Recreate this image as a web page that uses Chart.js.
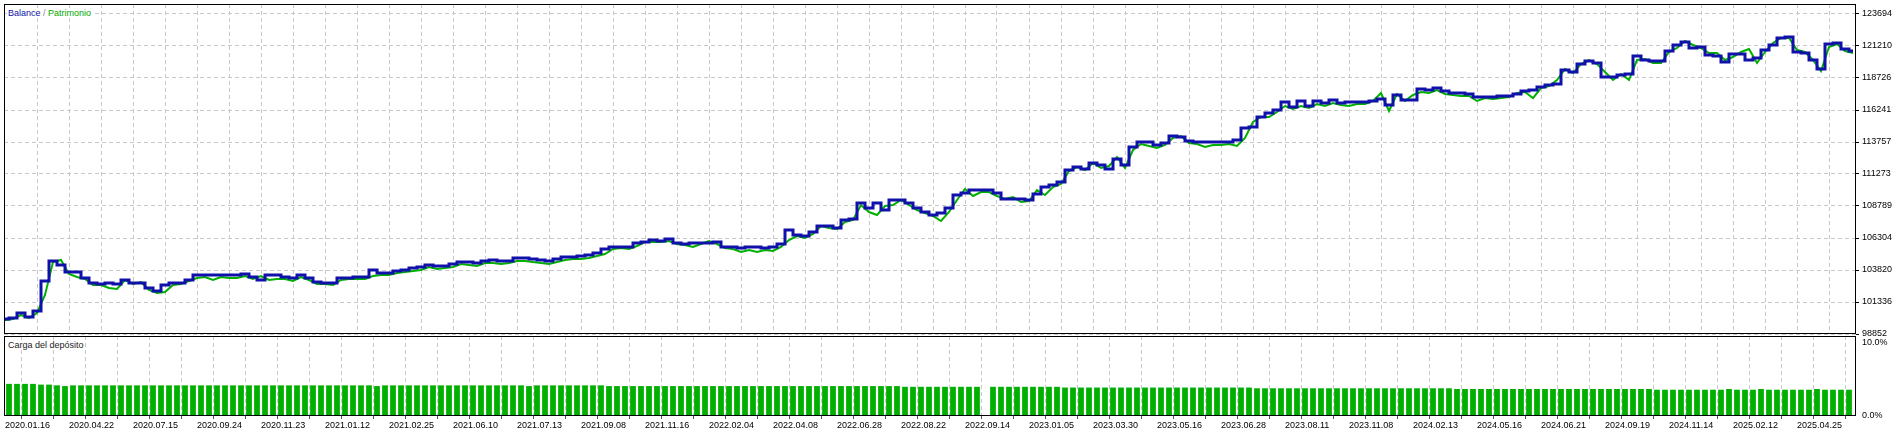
<!DOCTYPE html>
<html><head><meta charset="utf-8">
<script src="https://cdn.jsdelivr.net/npm/chart.js@4.4.0/dist/chart.umd.min.js"></script>
<style>
html,body{margin:0;padding:0;background:#fff;width:1901px;height:433px;overflow:hidden;}
#wrap{position:relative;width:1901px;height:433px;}
#mainBox{position:absolute;left:0;top:0;width:1901px;height:336px;}
#loadBox{position:absolute;left:0;top:330px;width:1901px;height:103px;}
.lbl{position:absolute;font:9px "Liberation Sans",Arial,sans-serif;white-space:nowrap;background:#fff;line-height:10px;padding:0 1px;}
</style></head>
<body><div id="wrap">
<div id="mainBox"><canvas id="main" width="1901" height="336"></canvas></div>
<div id="loadBox"><canvas id="load" width="1901" height="103"></canvas></div>
<div class="lbl" style="left:7px;top:8px;"><span style="color:#1010aa">Balance</span><span style="color:#888"> / </span><span style="color:#00a800">Patrimonio</span></div>
<div class="lbl" style="left:7px;top:340px;color:#222">Carga del depósito</div>
</div>
<script>
// ---- data ----
const dateLabels = ['2020.01.16','2020.04.22','2020.07.15','2020.09.24','2020.11.23','2021.01.12','2021.02.25','2021.06.10','2021.07.13','2021.09.08','2021.11.16','2022.02.04','2022.04.08','2022.06.28','2022.08.22','2022.09.14','2023.01.05','2023.03.30','2023.05.16','2023.06.28','2023.08.11','2023.11.08','2024.02.13','2024.05.16','2024.06.21','2024.09.19','2024.11.14','2025.02.12','2025.04.25'];
const yTickVals = [98852,101336,103820,106304,108789,111273,113757,116241,118726,121210,123694];
const yTickLabels = ['98852','101336','103820','106304','108789','111273','113757','116241','118726','121210','123694'];
const loadTickVals = [0,10];
const loadTickLabels = ['0.0%','10.0%'];

const balance = [
100016,100094,100482,100171,100637,102966,104519,104208,103665,103665,
103199,102811,102733,102811,102733,103044,102811,102811,102423,102190,
102655,102811,102811,103044,103432,103432,103432,103432,103432,103432,
103509,103276,103044,103432,103432,103276,103199,103432,103199,102888,
102811,102811,103199,103199,103276,103276,103820,103587,103587,103742,
103820,103975,104053,104208,104130,104130,104286,104441,104441,104363,
104519,104596,104519,104519,104751,104751,104674,104596,104519,104674,
104829,104829,104907,104984,105140,105450,105605,105605,105605,105916,
105994,106149,106071,106226,105916,105838,105916,105916,105916,105994,
105605,105605,105528,105605,105605,105528,105605,105838,106925,106537,
106459,106770,107236,107236,107080,107701,107779,109021,108633,109021,
108478,109254,109254,109021,108633,108322,108090,108245,108633,109642,
109797,110030,110030,110030,109797,109332,109332,109332,109254,109720,
110263,110418,110651,111583,111816,111661,112126,111971,111661,112437,
111971,113368,113757,113757,113524,113679,114222,114145,113834,113757,
113757,113757,113757,113757,113912,114843,114921,115697,116008,116241,
116862,116474,116939,116551,116939,116784,117017,116784,116862,116862,
116862,116939,117095,116629,117405,117017,117017,117871,117793,117949,
117716,117560,117560,117483,117250,117250,117250,117328,117328,117483,
117716,117793,118026,118181,118259,119346,119191,119812,120045,119889,
118802,118802,118958,119035,120433,120122,120045,120045,120821,121287,
121520,121054,121131,120510,120433,119967,120588,120588,120122,120277,
120898,121287,121830,121908,120743,120666,120122,119424,121364,121442,
120976,120821];

const equity = [
99938,100016,100327,100094,100482,101879,104441,104596,103509,103276,
103121,102655,102655,102423,102345,103044,102733,102888,102267,102034,
102112,102655,102733,102966,103199,103276,103044,103276,103199,103199,
103354,103121,103354,103044,103121,103121,102966,103276,103044,102733,
102733,102655,103044,103121,103121,103121,103354,103432,103432,103587,
103665,103742,103820,104053,103898,103975,104053,104286,104208,104130,
104363,104363,104286,104363,104519,104519,104441,104363,104286,104441,
104596,104674,104674,104751,104907,105062,105450,105528,105450,105683,
105994,105994,105994,106071,105838,105761,105605,105838,106071,105838,
105528,105450,105217,105372,105217,105372,105295,105605,106149,106459,
106304,106615,107236,107080,107003,107546,107701,108866,108322,108090,
108788,108866,109254,108866,108478,108245,108012,107624,108322,109254,
110108,109565,109875,109875,109565,109332,109487,109099,109176,110030,
109642,110263,110496,111505,111816,111583,112126,111738,111893,112592,
111738,113135,113601,113446,113291,113524,114067,114222,113679,113601,
113368,113524,113524,113601,113446,114067,115309,115697,115697,116085,
116551,116318,116551,116396,116706,116551,116784,116629,116551,116706,
116706,116939,117560,116163,117483,116939,117405,117638,117560,117793,
117483,117405,117328,117328,116939,117172,117095,117172,117250,117560,
117638,117172,117949,118104,118570,119424,119113,119812,120122,119812,
119191,118570,119035,118570,120122,120200,119889,119889,120743,121054,
121597,121287,121054,120666,120666,120122,120355,120743,120976,119889,
120743,121442,121830,121830,120898,120743,120122,119268,121131,121364,
120821,120666];

const depositLoad = [
4.4,4.4,4.4,4.4,4.3,4.3,4.2,4.1,4.2,4.2,
4.2,4.2,4.2,4.2,4.2,4.2,4.2,4.2,4.2,4.2,
4.2,4.2,4.2,4.2,4.2,4.2,4.2,4.2,4.2,4.2,
4.2,4.2,4.2,4.2,4.2,4.2,4.2,4.2,4.2,4.2,
4.2,4.2,4.2,4.2,4.2,4.2,4.1,4.2,4.2,4.2,
4.2,4.2,4.2,4.2,4.2,4.2,4.2,4.2,4.2,4.2,
4.2,4.2,4.2,4.2,4.2,4.1,4.2,4.2,4.2,4.2,
4.2,4.2,4.2,4.2,4.2,4.1,4.1,4.1,4.1,4.1,
4.1,4.1,4.1,4.1,4.1,4.1,4.1,4.1,4.1,4.1,
4.1,4.1,4.1,4.1,4.1,4.1,4.1,4.1,4.1,4.1,
4.1,4.1,4.1,4.1,4.1,4.1,4.1,4.1,4.1,4.1,
4.1,4.1,4.0,4.0,4.0,4.0,4.0,4.0,4.0,4.0,
4.0,4.0,null,4.0,4.0,4.0,4.0,4.0,4.0,4.0,
4.0,4.0,3.9,3.9,3.9,3.9,3.9,3.9,3.9,3.9,
3.9,3.9,3.9,3.9,3.9,3.9,3.9,3.9,3.9,3.9,
3.9,3.9,3.9,3.9,3.9,3.9,3.8,3.8,3.8,3.8,
3.8,3.8,3.8,3.8,3.8,3.8,3.8,3.8,3.8,3.8,
3.8,3.8,3.8,3.8,3.8,3.8,3.8,3.8,3.8,3.8,
3.8,3.7,3.7,3.7,3.7,3.7,3.7,3.7,3.7,3.7,
3.7,3.7,3.7,3.7,3.7,3.7,3.7,3.7,3.7,3.7,
3.7,3.7,3.7,3.7,3.7,3.7,3.6,3.6,3.6,3.6,
3.6,3.6,3.6,3.6,3.6,3.7,3.6,3.6,3.6,3.7,
3.6,3.6,3.6,3.6,3.6,3.6,3.7,3.6,3.6,3.6,
3.6];

// ---- layout / style ----
const X_MIN = -0.125, X_MAX = 231.375;
const gridIdx = []; for (let k = 0; k <= 57; k++) gridIdx.push(k * 4);
const FONT = {family: '"Liberation Sans", Arial, sans-serif', size: 9};
const GRID = '#c8c8c8';
const DASH = [4, 3];

const frame = {id: 'frame', afterDraw(c) {
  const a = c.chartArea, ctx = c.ctx;
  ctx.save(); ctx.strokeStyle = '#000'; ctx.lineWidth = 1;
  ctx.strokeRect(a.left + 0.5, a.top + 0.5, a.right - a.left - 1, a.bottom - a.top - 1);
  ctx.restore();
}};

const noPad = ax => { ax.paddingTop = 0; ax.paddingBottom = 0; ax.paddingLeft = 0; ax.paddingRight = 0; };
const gridColor = ctx => (ctx.tick && ctx.tick.value === 0) ? 'rgba(0,0,0,0)' : GRID;

new Chart(document.getElementById('main'), {
  type: 'line',
  data: { datasets: [
    { label: 'Balance', data: balance.map((v, i) => ({x: i, y: v})), borderColor: '#1010aa', borderWidth: 3,
      pointRadius: 0, stepped: 'middle', order: 0 },
    { label: 'Patrimonio', data: equity.map((v, i) => ({x: i, y: v})), borderColor: '#00b000', borderWidth: 2,
      pointRadius: 0, tension: 0, order: 1 }
  ]},
  options: {
    responsive: false, animation: false, devicePixelRatio: 1,
    layout: {padding: {left: 4, top: 4, right: 0, bottom: 2}},
    plugins: {legend: {display: false}, tooltip: {enabled: false}},
    scales: {
      x: { type: 'linear', min: X_MIN, max: X_MAX,
        afterBuildTicks: ax => { ax.ticks = gridIdx.map(v => ({value: v})); },
        afterFit: ax => { ax.height = 0; noPad(ax); },
        ticks: {display: false},
        grid: {color: gridColor, drawTicks: false},
        border: {display: false, dash: DASH} },
      y: { type: 'linear', position: 'right', min: 98852, max: 124470,
        afterBuildTicks: ax => { ax.ticks = yTickVals.map(v => ({value: v})); },
        afterFit: ax => { ax.width = 45; noPad(ax); },
        ticks: {color: '#000', font: FONT, padding: 3, callback: (v, i) => yTickLabels[i]},
        grid: {color: GRID, tickLength: 3, tickColor: '#000', tickBorderDash: []},
        border: {display: false, dash: DASH} }
    }
  },
  plugins: [frame]
});

new Chart(document.getElementById('load'), {
  type: 'bar',
  data: { datasets: [
    { label: 'Carga del depósito', data: depositLoad.map((v, i) => ({x: i + 0.5, y: v})),
      backgroundColor: '#00b000', borderWidth: 0, barPercentage: 0.72, categoryPercentage: 1.0 }
  ]},
  options: {
    responsive: false, animation: false, devicePixelRatio: 1,
    layout: {padding: {left: 4, top: 6, right: 0, bottom: 0}},
    plugins: {legend: {display: false}, tooltip: {enabled: false}},
    scales: {
      x: { type: 'linear', min: X_MIN, max: X_MAX, offset: false,
        afterBuildTicks: ax => { ax.ticks = gridIdx.map(v => ({value: v})); },
        afterFit: ax => { ax.height = 17; noPad(ax); },
        ticks: {color: '#000', font: FONT, padding: 1, align: 'start', autoSkip: false, maxRotation: 0, minRotation: 0,
          callback: v => (v % 8 === 0 ? dateLabels[v / 8] : '')},
        grid: {color: gridColor, tickLength: 3, tickColor: '#555', tickBorderDash: []},
        border: {display: false, dash: DASH} },
      y: { type: 'linear', position: 'right', min: 0, max: 10.96,
        afterBuildTicks: ax => { ax.ticks = loadTickVals.map(v => ({value: v})); },
        afterFit: ax => { ax.width = 45; noPad(ax); },
        ticks: {color: '#000', font: FONT, padding: 6, callback: (v, i) => loadTickLabels[i]},
        grid: {drawOnChartArea: false, drawTicks: false},
        border: {display: false} }
    }
  },
  plugins: [frame]
});
</script>
</body></html>
